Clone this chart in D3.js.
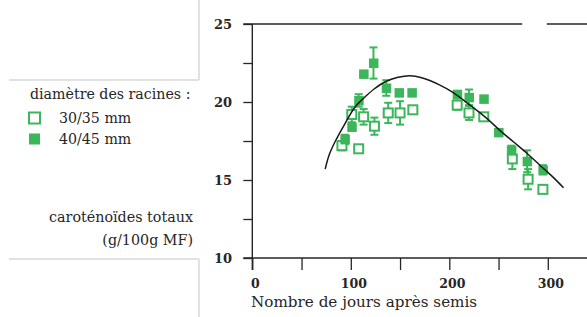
<!DOCTYPE html>
<html><head><meta charset="utf-8">
<script src="https://cdn.jsdelivr.net/npm/d3@7"></script>
<style>body{margin:0;background:#fff}svg{display:block}</style>
</head><body>
<svg id="c" width="587" height="317"></svg>
<script>
// ---- data ----
const xTicks = [0, 100, 200, 300];
const xMinorTicks = [50, 150, 250];
const yTicks = [10, 15, 20, 25];
const yMinorTicks = [12.5, 17.5, 22.5];

// 30/35 mm (open squares): day, value, error
const openDays = [91, 101, 108, 113, 124, 138, 150, 163, 208, 220, 235, 264, 280, 295];
const openVals = [17.2, 19.2, 17.0, 19.05, 18.45, 19.3, 19.3, 19.5, 19.8, 19.3, 19.05, 16.35, 15.05, 14.4];
const openErr  = [0.3, 0.5, 0, 0.5, 0.55, 0.65, 0.75, 0, 0.3, 0.45, 0.2, 0.65, 0.65, 0];

// 40/45 mm (filled squares)
const fillDays = [94, 101, 108, 113, 123, 136, 149, 162, 208, 220, 235, 250, 263, 279, 295];
const fillVals = [17.6, 18.4, 20.1, 21.8, 22.5, 20.9, 20.6, 20.6, 20.5, 20.3, 20.2, 18.05, 16.9, 16.2, 15.65];
const fillErr  = [0.3, 0.2, 0.4, 0.1, 1.0, 0.5, 0.1, 0.1, 0.2, 0.5, 0, 0, 0.3, 0.7, 0.3];

// fitted curve, points
const curveDays = [74, 78, 84, 94, 104, 114, 124, 135, 148, 160, 172, 190, 204, 221, 238, 251, 265, 279, 292, 305, 316];
const curveVals = [15.7, 16.6, 17.45, 18.6, 19.65, 20.3, 20.85, 21.3, 21.58, 21.68, 21.55, 21.1, 20.6, 19.8, 18.95, 18.2, 17.45, 16.7, 15.95, 15.2, 14.5];

const legendTitle = "diamètre des racines :";
const legendLabels = ["30/35 mm", "40/45 mm"];
const yTitle = ["caroténoïdes totaux", "(g/100g MF)"];
const xTitle = "Nombre de jours après semis";

// ---- drawing ----
const green = "#3cb65a";
const ink = "#262626";
const serif = "'DejaVu Serif', serif";
const svg = d3.select("#c");

const x = d3.scaleLinear().domain([0, 340]).range([252.3, 587.2]);
const y = d3.scaleLinear().domain([10, 25]).range([258, 24]);

// left panel frame lines (light gray)
const gray = "#d8d8d8";
svg.append("line").attr("x1", 199).attr("x2", 199).attr("y1", 0).attr("y2", 80).attr("stroke", gray).attr("stroke-width", 1.5);
svg.append("line").attr("x1", 9).attr("x2", 199).attr("y1", 80).attr("y2", 80).attr("stroke", gray).attr("stroke-width", 1.5);
svg.append("line").attr("x1", 9).attr("x2", 199).attr("y1", 259).attr("y2", 259).attr("stroke", gray).attr("stroke-width", 1.5);
svg.append("line").attr("x1", 199).attr("x2", 199).attr("y1", 259).attr("y2", 317).attr("stroke", gray).attr("stroke-width", 1.5);

// axes
const g = svg.append("g");
const yAxis = d3.axisLeft(y).tickValues(yTicks.concat(yMinorTicks)).tickSize(9).tickFormat("");
g.append("g").attr("transform", `translate(${x(0)},0)`).call(yAxis)
  .call(s => { s.select(".domain").remove(); s.selectAll("line").attr("stroke", ink).attr("stroke-width", 1.3); });
const xAxis = d3.axisBottom(x).tickValues(xTicks.concat(xMinorTicks)).tickSize(12).tickFormat("");
g.append("g").attr("transform", `translate(0,${y(10)})`).call(xAxis)
  .call(s => { s.select(".domain").remove(); s.selectAll("line").attr("stroke", ink).attr("stroke-width", 1.3); });

// axis lines
g.append("line").attr("x1", x(0)).attr("x2", x(0)).attr("y1", y(25)).attr("y2", y(10) + 12).attr("stroke", ink).attr("stroke-width", 1.4);
g.append("line").attr("x1", x(0) - 9).attr("x2", x(340)).attr("y1", y(10)).attr("y2", y(10)).attr("stroke", ink).attr("stroke-width", 1.4);
g.append("line").attr("x1", x(0) - 9).attr("x2", x(274)).attr("y1", y(25)).attr("y2", y(25)).attr("stroke", ink).attr("stroke-width", 1.4);
g.append("line").attr("x1", x(299)).attr("x2", x(340)).attr("y1", y(25)).attr("y2", y(25)).attr("stroke", ink).attr("stroke-width", 1.4);

// tick labels
g.selectAll(".yl").data(yTicks).join("text")
  .attr("x", 232).attr("y", d => y(d)).attr("dy", "0.35em").attr("text-anchor", "end")
  .attr("font-family", serif).attr("font-size", 13).attr("font-weight", 600).attr("fill", ink).text(d => d);
g.selectAll(".xl").data(xTicks).join("text")
  .attr("x", d => x(d) + 3).attr("y", 288).attr("text-anchor", "middle")
  .attr("font-family", serif).attr("font-size", 12.5).attr("font-weight", 600).attr("fill", ink).text(d => d);

// titles
svg.append("text").attr("x", 251).attr("y", 307).attr("font-family", serif).attr("font-size", 15.2)
  .attr("fill", ink).text(xTitle);
svg.selectAll(".yt").data(yTitle).join("text")
  .attr("x", 193).attr("y", (d, i) => 222 + i * 23).attr("text-anchor", "end")
  .attr("font-family", serif).attr("font-size", 14.3).attr("fill", ink).text(d => d);

// legend
svg.append("text").attr("x", 30).attr("y", 99).attr("font-family", serif).attr("font-size", 14.2)
  .attr("fill", ink).text(legendTitle);
const leg = svg.selectAll(".leg").data(legendLabels).join("g")
  .attr("transform", (d, i) => `translate(0,${118 + i * 21})`);
leg.append("rect").attr("x", 29).attr("y", -5.5).attr("width", 11).attr("height", 11)
  .attr("fill", (d, i) => i ? green : "#fff").attr("stroke", green).attr("stroke-width", (d, i) => i ? 0 : 2);
leg.append("text").attr("x", 59).attr("y", 0).attr("dy", "0.35em").attr("font-family", serif)
  .attr("font-size", 14.2).attr("fill", ink).text(d => d);

// data
const openData = openDays.map((d, i) => ({d, v: openVals[i], e: openErr[i]}));
const fillData = fillDays.map((d, i) => ({d, v: fillVals[i], e: fillErr[i]}));

function errorBars(data) {
  const eb = svg.append("g").attr("stroke", green).attr("stroke-width", 2);
  data.filter(p => p.e > 0).forEach(p => {
    eb.append("line").attr("x1", x(p.d)).attr("x2", x(p.d)).attr("y1", y(p.v - p.e)).attr("y2", y(p.v + p.e));
    [p.v - p.e, p.v + p.e].forEach(t => eb.append("line").attr("x1", x(p.d) - 4).attr("x2", x(p.d) + 4).attr("y1", y(t)).attr("y2", y(t)));
  });
}
errorBars(openData);
errorBars(fillData);

svg.append("g").selectAll("rect").data(openData).join("rect")
  .attr("x", p => x(p.d) - 4.5).attr("y", p => y(p.v) - 4.5).attr("width", 9).attr("height", 9)
  .attr("fill", "#fff").attr("stroke", green).attr("stroke-width", 2);
svg.append("g").selectAll("rect").data(fillData).join("rect")
  .attr("x", p => x(p.d) - 4.5).attr("y", p => y(p.v) - 4.5).attr("width", 9.5).attr("height", 9.5)
  .attr("fill", green);

// curve
const line = d3.line().x(p => x(p[0])).y(p => y(p[1])).curve(d3.curveCatmullRom);
svg.append("path").datum(curveDays.map((d, i) => [d, curveVals[i]]))
  .attr("d", line).attr("fill", "none").attr("stroke", "#1a1a1a").attr("stroke-width", 1.5);
</script>
</body></html>
